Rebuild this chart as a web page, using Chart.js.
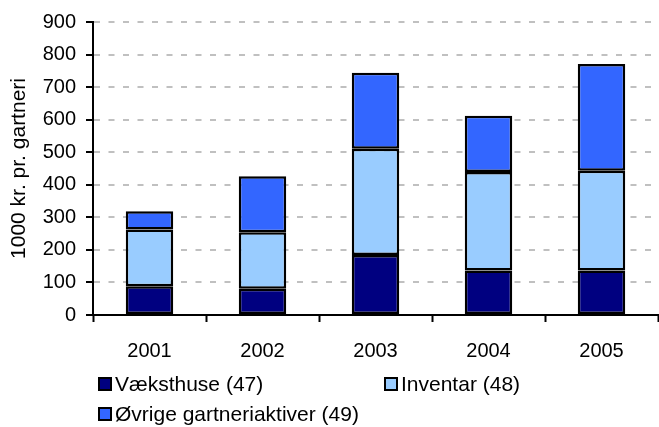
<!DOCTYPE html>
<html>
<head>
<meta charset="utf-8">
<script src="https://cdn.jsdelivr.net/npm/chart.js@4/dist/chart.umd.min.js"></script>
<style>
  html, body { margin: 0; padding: 0; background: #fff; }
  #wrap { width: 659px; height: 427px; position: relative; }
</style>
</head>
<body>
<div id="wrap"><canvas id="chart"></canvas></div>
<script>
// data
const years = ['2001', '2002', '2003', '2004', '2005'];
const vaeksthuse = [88, 81, 184, 137, 137];
const inventar = [175, 173, 327, 302, 306];
const oevrige = [56, 172, 233, 173, 328];
const seriesNames = ['Væksthuse (47)', 'Inventar (48)', 'Øvrige gartneriaktiver (49)'];
const seriesColors = ['#000080', '#99CCFF', '#3366FF'];

const FONT = "'Liberation Sans', Arial, sans-serif";

// Excel-like legend: two columns, wraps to a second row
const legendSlots = [[99, 384], [385, 384], [99, 414]];
const excelLegend = {
    id: 'excelLegend',
    afterDraw(chart) {
        const ctx = chart.ctx;
        ctx.save();
        ctx.font = '21px ' + FONT;
        ctx.textBaseline = 'middle';
        ctx.textAlign = 'left';
        chart.data.datasets.forEach((ds, i) => {
            const [x, y] = legendSlots[i];
            ctx.fillStyle = ds.backgroundColor;
            ctx.fillRect(x, y - 6, 12, 12);
            ctx.lineWidth = 2;
            ctx.strokeStyle = '#000';
            ctx.strokeRect(x, y - 6, 12, 12);
            ctx.fillStyle = '#000';
            ctx.fillText(ds.label, x + 16, y + 1);
        });
        ctx.restore();
    }
};

const datasets = [vaeksthuse, inventar, oevrige].map((values, i) => ({
    label: seriesNames[i],
    data: values,
    backgroundColor: seriesColors[i],
    borderColor: '#000',
    borderWidth: 2.5,
    borderSkipped: false,
    inflateAmount: 0,
    barPercentage: 0.42,
    categoryPercentage: 1.0,
}));

new Chart(document.getElementById('chart'), {
    type: 'bar',
    data: { labels: years, datasets },
    options: {
        responsive: true,
        maintainAspectRatio: false,
        animation: false,
        devicePixelRatio: 1,
        layout: { padding: { top: 19, right: 1, bottom: 62, left: 0 } },
        plugins: {
            legend: { display: false },
            tooltip: { enabled: false },
        },
        scales: {
            x: {
                stacked: true,
                grid: {
                    offset: true,
                    drawOnChartArea: false,
                    tickLength: 7,
                    tickColor: '#000',
                    tickWidth: 2,
                },
                border: { color: '#000', width: 2 },
                ticks: {
                    color: '#000',
                    padding: 17,
                    font: { family: FONT, size: 20 },
                    maxRotation: 0,
                },
                afterFit(scale) { scale.height = 50; },
            },
            y: {
                stacked: true,
                min: 0,
                max: 900,
                grid: {
                    color: '#C0C0C0',
                    lineWidth: 2,
                    tickLength: 7,
                    tickColor: '#000',
                    tickWidth: 2,
                    tickBorderDash: [],
                },
                border: { color: '#000', width: 2, dash: [6, 8.5] },
                ticks: {
                    stepSize: 100,
                    color: '#000',
                    padding: 10,
                    font: { family: FONT, size: 20 },
                },
                title: {
                    display: true,
                    text: '1000 kr. pr. gartneri',
                    color: '#000',
                    font: { family: FONT, size: 21 },
                    padding: { top: 7, bottom: 0 },
                },
                afterFit(scale) { scale.width = 93; },
            },
        },
    },
    plugins: [excelLegend],
});
</script>
</body>
</html>
